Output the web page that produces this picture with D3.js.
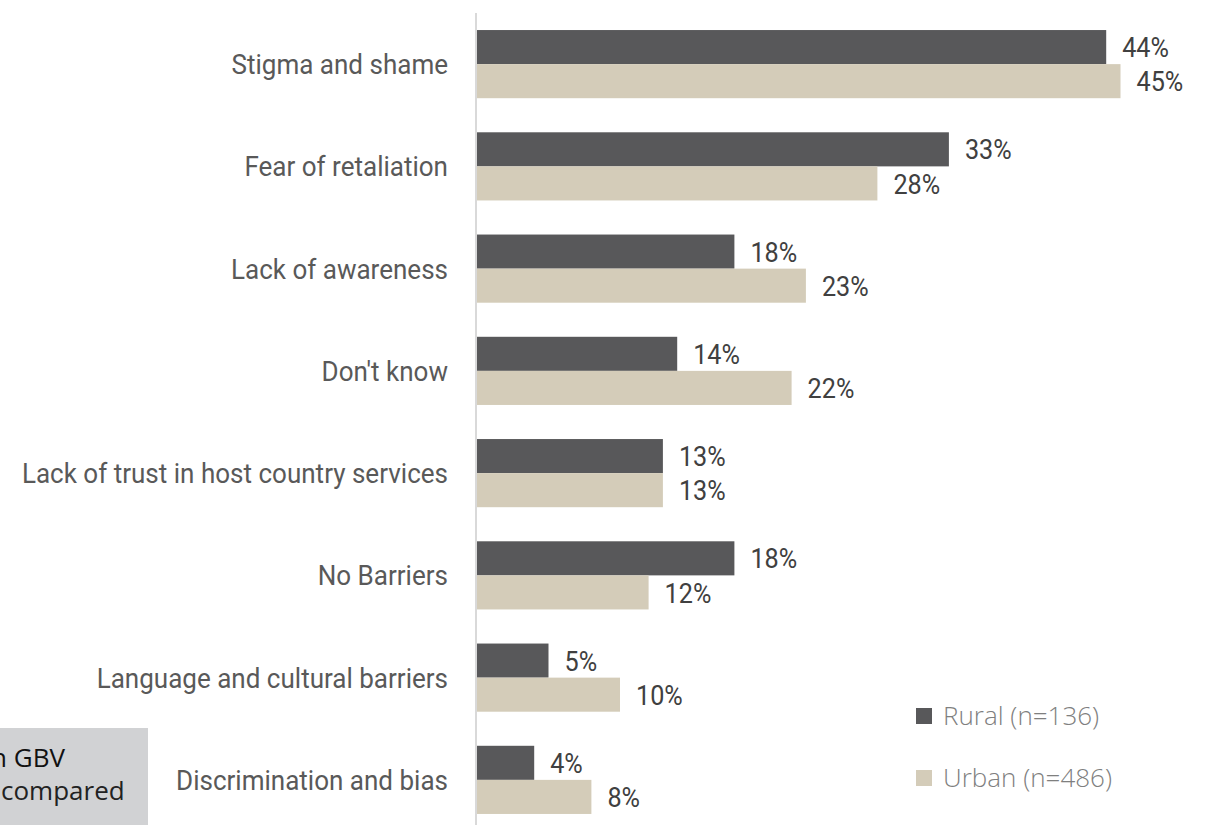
<!DOCTYPE html>
<html>
<head>
<meta charset="utf-8">
<script src="https://cdn.jsdelivr.net/npm/d3@7"></script>
<style>
  html, body { margin: 0; padding: 0; background: #ffffff; }
  svg { display: block; }
</style>
</head>
<body>
<svg id="chart" width="1206" height="825"></svg>
<script>
// Barriers to accessing GBV services, by location
const categories = [
  "Stigma and shame",
  "Fear of retaliation",
  "Lack of awareness",
  "Don't know",
  "Lack of trust in host country services",
  "No Barriers",
  "Language and cultural barriers",
  "Discrimination and bias"
];
const ruralValues = [44, 33, 18, 14, 13, 18, 5, 4];
const urbanValues = [45, 28, 23, 22, 13, 12, 10, 8];
const seriesNames = ["Rural (n=136)", "Urban (n=486)"];
const seriesColors = ["#58585a", "#d4ccb9"];
const noteLines = ["in GBV", "compared"];

const svg = d3.select("#chart");
const condenseLabel = 0.93;  // narrow glyphs for category names
const condenseValue = 0.9;   // narrow glyphs for value labels

const x = d3.scaleLinear().domain([0, 50]).range([477, 1192]);
const y = d3.scaleBand()
  .domain(categories)
  .range([13, 831])
  .paddingInner(1 / 3)
  .paddingOuter(1 / 6);
const half = y.bandwidth() / 2;

// Side note panel (partly off the left edge)
const note = svg.append("g");
note.append("rect")
  .attr("x", 0).attr("y", 728)
  .attr("width", 148).attr("height", 100)
  .attr("fill", "#d1d2d4");
note.append("text")
  .attr("x", 65).attr("y", 767)
  .attr("text-anchor", "end")
  .attr("font-family", "'Open Sans', sans-serif")
  .attr("font-size", 26)
  .attr("fill", "#111111")
  .text(noteLines[0]);
note.append("text")
  .attr("x", 1).attr("y", 800)
  .attr("font-family", "'Open Sans', sans-serif")
  .attr("font-size", 26)
  .attr("fill", "#222222")
  .text(noteLines[1]);

// Category axis line
svg.append("line")
  .attr("x1", x(0) - 1).attr("x2", x(0) - 1)
  .attr("y1", 13).attr("y2", 825)
  .attr("stroke", "#d9d9d9")
  .attr("stroke-width", 2);

// Category labels
svg.append("g").selectAll("text")
  .data(categories)
  .join("text")
  .attr("transform", d => `translate(448,${y(d) + y.bandwidth() / 2}) scale(${condenseLabel},1)`)
  .attr("dy", "0.36em")
  .attr("text-anchor", "end")
  .attr("font-family", "Roboto, sans-serif")
  .attr("font-size", 28)
  .attr("fill", "#595959")
  .text(d => d);

// Bars + value labels for each series
const series = [ruralValues, urbanValues];
series.forEach((values, si) => {
  const rows = categories.map((c, i) => ({ c, v: values[i] }));
  const g = svg.append("g");
  g.selectAll("rect")
    .data(rows)
    .join("rect")
    .attr("x", x(0))
    .attr("y", d => y(d.c) + si * half)
    .attr("width", d => x(d.v) - x(0))
    .attr("height", half)
    .attr("fill", seriesColors[si]);
  g.selectAll("text")
    .data(rows)
    .join("text")
    .attr("transform", d => `translate(${x(d.v) + 16},${y(d.c) + si * half + half / 2}) scale(${condenseValue},1)`)
    .attr("dy", "0.36em")
    .attr("font-family", "Roboto, sans-serif")
    .attr("font-size", 28)
    .attr("fill", "#404040")
    .text(d => d.v + "%");
});

// Legend
const legend = svg.append("g");
const legendRows = [716, 778];
seriesNames.forEach((name, i) => {
  legend.append("rect")
    .attr("x", 916).attr("y", legendRows[i] - 8)
    .attr("width", 16).attr("height", 16)
    .attr("fill", seriesColors[i]);
  legend.append("text")
    .attr("x", 943).attr("y", legendRows[i])
    .attr("dy", "0.35em")
    .attr("font-family", "'Open Sans', sans-serif")
    .attr("font-weight", 300)
    .attr("font-size", 26)
    .attr("fill", "#7f7f7f")
    .text(name);
});
</script>
</body>
</html>
